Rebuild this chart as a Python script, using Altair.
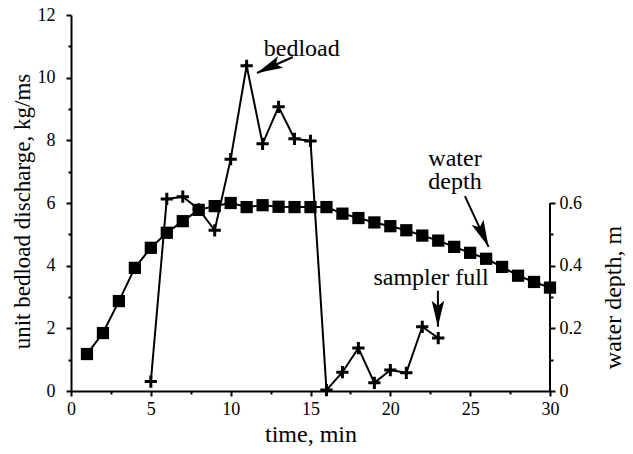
import altair as alt
import pandas as pd

# ---- data ----
time_depth = list(range(1, 31))
water_depth_m = [0.118, 0.185, 0.287, 0.393, 0.457, 0.505, 0.542, 0.578, 0.590, 0.600,
                 0.587, 0.593, 0.588, 0.587, 0.587, 0.587, 0.566, 0.552, 0.538, 0.526,
                 0.513, 0.496, 0.480, 0.460, 0.441, 0.422, 0.396, 0.368, 0.348, 0.330]
time_bed = list(range(5, 24))
bedload = [0.30, 6.13, 6.20, 5.80, 5.13, 7.40, 10.38, 7.89, 9.07, 8.05,
           7.98, 0.03, 0.60, 1.37, 0.26, 0.67, 0.58, 2.05, 1.69]

x_ticks = [0, 2.5, 5, 7.5, 10, 12.5, 15, 17.5, 20, 22.5, 25, 27.5, 30]
y_ticks = list(range(0, 13))
depth_ticks = [0, 0.1, 0.2, 0.3, 0.4, 0.5, 0.6]

# annotations (in data coordinates: time, bedload units)
label_text = ["bedload", "water", "depth", "sampler full"]
label_t = [14.45, 24.05, 24.05, 22.55]
label_y = [10.7, 7.18, 6.45, 3.38]

arrow_t_tail = [13.9, 24.67, 22.98]
arrow_y_tail = [10.66, 6.22, 3.2]
arrow_t_tip = [11.65, 26.15, 22.98]
arrow_y_tip = [10.15, 4.60, 2.05]
arrow_angle = [155, 66, 90]
arrow_size = [2700, 2900, 2700]

FONT = "Liberation Serif"

bed_df = pd.DataFrame({"t": time_bed, "v": bedload})
depth_df = pd.DataFrame({"t": time_depth, "d": water_depth_m})
lab_df = pd.DataFrame({"t": label_t, "y": label_y, "text": label_text})
arr_df = pd.DataFrame({"t": arrow_t_tail, "y": arrow_y_tail, "t2": arrow_t_tip,
                       "y2": arrow_y_tip, "angle": arrow_angle, "size": arrow_size})
raxis_df = pd.DataFrame({"t": [30], "y": [0], "y2": [0.6]})

x_scale = alt.Scale(domain=[0, 30], nice=False, zero=False)
x_axis = alt.Axis(
    values=x_ticks, title="time, min",
    labelExpr="datum.value % 5 === 0 ? datum.label : ''",
    tickSize={"condition": {"test": "datum.value % 5 === 0", "value": 5}, "value": 3},
    labelPadding=4, titleY=50, titleBaseline="alphabetic", titleFontSize=24,
)


def X(field="t"):
    return alt.X(field, type="quantitative", scale=x_scale, axis=x_axis)


y_scale = alt.Scale(domain=[0, 12], nice=False)
y_axis = alt.Axis(
    values=y_ticks, title="unit bedload discharge, kg/ms",
    labelExpr="datum.value % 2 === 0 ? datum.label : ''",
    tickSize={"condition": {"test": "datum.value % 2 === 0", "value": 5}, "value": 3},
    labelPadding=11, titleX=-49, titleY=196, titleBaseline="middle", titleAngle=270,
    titleFontSize=23,
)

bed_line = alt.Chart(bed_df).mark_line(color="black", strokeWidth=2).encode(
    x=X(), y=alt.Y("v:Q", scale=y_scale, axis=y_axis))
bed_pts = alt.Chart(bed_df).mark_point(
    shape="M-1,0H1M0,-1V1", filled=False, stroke="black", strokeWidth=3, size=150, opacity=1
).encode(x=X(), y=alt.Y("v:Q", scale=y_scale, axis=y_axis))

labels = alt.Chart(lab_df).mark_text(
    font=FONT, fontSize=24, color="black", align="center", baseline="alphabetic"
).encode(x=X(), y=alt.Y("y:Q", scale=y_scale, axis=y_axis), text="text:N")

shafts = alt.Chart(arr_df).mark_rule(color="black", strokeWidth=2).encode(
    x=X(), y=alt.Y("y:Q", scale=y_scale, axis=y_axis), x2="t2:Q", y2="y2:Q")
heads = alt.Chart(arr_df).mark_point(
    shape="M0,0L-1,-0.24L-0.8,0L-1,0.24Z", filled=True, color="black", opacity=1
).encode(
    x=alt.X("t2:Q", scale=x_scale, axis=x_axis),
    y=alt.Y("y2:Q", scale=y_scale, axis=y_axis),
    angle=alt.Angle("angle:Q", scale=None),
    size=alt.Size("size:Q", scale=None),
)

left = alt.layer(bed_line, bed_pts, shafts, heads, labels)

d_scale = alt.Scale(domain=[0, 1.2], nice=False)
d_axis = alt.Axis(
    orient="right", values=depth_ticks, title="water depth, m", domain=False,
    labelExpr="round(datum.value * 10) % 2 === 0 ? (datum.value === 0 ? '0' : format(datum.value, '.1f')) : ''",
    tickSize={"condition": {"test": "round(datum.value * 10) % 2 === 0", "value": 5}, "value": 3},
    labelPadding=4, titleX=70, titleY=282, titleBaseline="alphabetic", titleAngle=270,
    titleFontSize=24,
)
depth_line = alt.Chart(depth_df).mark_line(color="black", strokeWidth=2).encode(
    x=X(), y=alt.Y("d:Q", scale=d_scale, axis=d_axis))
depth_pts = alt.Chart(depth_df).mark_square(color="black", size=150, opacity=1).encode(
    x=X(), y=alt.Y("d:Q", scale=d_scale, axis=d_axis))
raxis = alt.Chart(raxis_df).mark_rule(color="black", strokeWidth=2).encode(
    x=X(), y=alt.Y("y:Q", scale=d_scale, axis=d_axis), y2="y2:Q")

right = alt.layer(depth_line, depth_pts, raxis)

chart = alt.layer(right, left).resolve_scale(y="independent").properties(
    width=479, height=376,
    autosize=alt.AutoSizeParams(type="none"),
    padding={"left": 63, "top": 7, "right": 75, "bottom": 55},
).configure_view(stroke=None).configure_axis(
    grid=False, labelFont=FONT, titleFont=FONT, labelFontSize=18,
    labelColor="black", titleColor="black", titleFontWeight="normal",
    domainColor="black", tickColor="black", domainWidth=2, tickWidth=2,
    labelFlush=False, labelOverlap=False,
)

chart.save("out.html", embed_options={"renderer": "svg", "actions": False})
